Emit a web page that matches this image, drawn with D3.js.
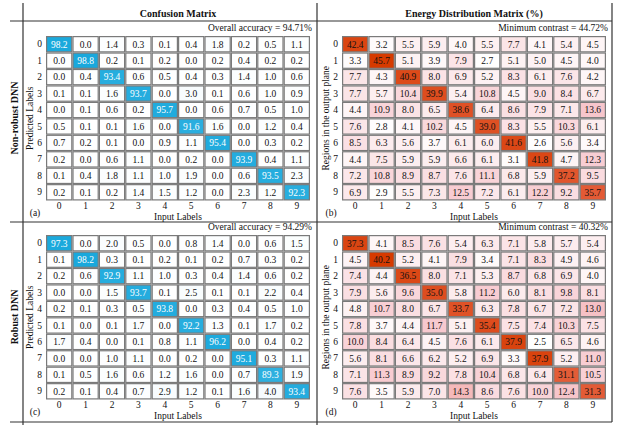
<!DOCTYPE html>
<html>
<head>
<meta charset="utf-8">
<script src="https://cdn.jsdelivr.net/npm/d3@7"></script>
<style>
  body { margin: 0; background: #fff; }
  svg text { font-family: "Liberation Serif", "Times New Roman", serif; fill: #111; }
</style>
</head>
<body>
<div id="chart"></div>
<script>
// etiquetas 0..9 para filas y columnas
var etiquetas = ["0", "1", "2", "3", "4", "5", "6", "7", "8", "9"];

// (a) matriz de confusion, red no robusta (filas = predicho, columnas = entrada)
var confusionNoRobusta = [
  [98.2, 0.0, 1.4, 0.3, 0.1, 0.4, 1.8, 0.2, 0.5, 1.1],
  [0.0, 98.8, 0.2, 0.1, 0.2, 0.0, 0.2, 0.4, 0.2, 0.2],
  [0.0, 0.4, 93.4, 0.6, 0.5, 0.4, 0.3, 1.4, 1.0, 0.6],
  [0.1, 0.1, 1.6, 93.7, 0.0, 3.0, 0.1, 0.6, 1.0, 0.9],
  [0.0, 0.1, 0.6, 0.2, 95.7, 0.0, 0.6, 0.7, 0.5, 1.0],
  [0.5, 0.1, 0.1, 1.6, 0.0, 91.6, 1.6, 0.0, 1.2, 0.4],
  [0.7, 0.2, 0.1, 0.0, 0.9, 1.1, 95.4, 0.0, 0.3, 0.2],
  [0.2, 0.0, 0.6, 1.1, 0.0, 0.2, 0.0, 93.9, 0.4, 1.1],
  [0.1, 0.4, 1.8, 1.1, 1.0, 1.9, 0.0, 0.6, 93.5, 2.3],
  [0.2, 0.1, 0.2, 1.4, 1.5, 1.2, 0.0, 2.3, 1.2, 92.3]
];

// (b) distribucion de energia, red no robusta
var energiaNoRobusta = [
  [42.4, 3.2, 5.5, 5.9, 4.0, 5.5, 7.7, 4.1, 5.4, 4.5],
  [3.3, 45.7, 5.1, 3.9, 7.9, 2.7, 5.1, 5.0, 4.5, 4.0],
  [7.7, 4.3, 40.9, 8.0, 6.9, 5.2, 8.3, 6.1, 7.6, 4.2],
  [7.7, 5.7, 10.4, 39.9, 5.4, 10.8, 4.5, 9.0, 8.4, 6.7],
  [4.4, 10.9, 8.0, 6.5, 38.6, 6.4, 8.6, 7.9, 7.1, 13.6],
  [7.6, 2.8, 4.1, 10.2, 4.5, 39.0, 8.3, 5.5, 10.3, 6.1],
  [8.5, 6.3, 5.6, 3.7, 6.1, 6.0, 41.6, 2.6, 5.6, 3.4],
  [4.4, 7.5, 5.9, 5.9, 6.6, 6.1, 3.1, 41.8, 4.7, 12.3],
  [7.2, 10.8, 8.9, 8.7, 7.6, 11.1, 6.8, 5.9, 37.2, 9.5],
  [6.9, 2.9, 5.5, 7.3, 12.5, 7.2, 6.1, 12.2, 9.2, 35.7]
];

// (c) matriz de confusion, red robusta
var confusionRobusta = [
  [97.3, 0.0, 2.0, 0.5, 0.0, 0.8, 1.4, 0.0, 0.6, 1.5],
  [0.1, 98.2, 0.3, 0.1, 0.2, 0.1, 0.2, 0.7, 0.3, 0.2],
  [0.2, 0.6, 92.9, 1.1, 1.0, 0.3, 0.4, 1.4, 0.6, 0.2],
  [0.0, 0.0, 1.5, 93.7, 0.1, 2.5, 0.1, 0.1, 2.2, 0.4],
  [0.2, 0.1, 0.3, 0.5, 93.8, 0.0, 0.3, 0.4, 0.5, 1.0],
  [0.1, 0.0, 0.1, 1.7, 0.0, 92.2, 1.3, 0.1, 1.7, 0.2],
  [1.7, 0.4, 0.0, 0.1, 0.8, 1.1, 96.2, 0.0, 0.4, 0.2],
  [0.0, 0.0, 1.0, 1.1, 0.0, 0.2, 0.0, 95.1, 0.3, 1.1],
  [0.1, 0.5, 1.6, 0.6, 1.2, 1.6, 0.0, 0.7, 89.3, 1.9],
  [0.2, 0.1, 0.4, 0.7, 2.9, 1.2, 0.1, 1.6, 4.0, 93.4]
];

// (d) distribucion de energia, red robusta
var energiaRobusta = [
  [37.3, 4.1, 8.5, 7.6, 5.4, 6.3, 7.1, 5.8, 5.7, 5.4],
  [4.5, 40.2, 5.2, 4.1, 7.9, 3.4, 7.1, 8.3, 4.9, 4.6],
  [7.4, 4.4, 36.5, 8.0, 7.1, 5.3, 8.7, 6.8, 6.9, 4.0],
  [7.9, 5.6, 9.6, 35.0, 5.8, 11.2, 6.0, 8.1, 9.8, 8.1],
  [4.8, 10.7, 8.0, 6.7, 33.7, 6.3, 7.8, 6.7, 7.2, 13.0],
  [7.8, 3.7, 4.4, 11.7, 5.1, 35.4, 7.5, 7.4, 10.3, 7.5],
  [10.0, 8.4, 6.4, 4.5, 7.6, 6.1, 37.9, 2.5, 6.5, 4.6],
  [5.6, 8.1, 6.6, 6.2, 5.2, 6.9, 3.3, 37.9, 5.2, 11.0],
  [7.1, 11.3, 8.9, 9.2, 7.8, 10.4, 6.8, 6.4, 31.1, 10.5],
  [7.6, 3.5, 5.9, 7.0, 14.3, 8.6, 7.6, 10.0, 12.4, 31.3]
];

var titulos = ["Confusion Matrix", "Energy Distribution Matrix (%)"];
var filas = ["Non-robust DNN", "Robust DNN"];
var notas = ["Overall accuracy = 94.71%", "Minimum contrast = 44.72%",
             "Overall accuracy = 94.29%", "Minimum contrast = 40.32%"];
var letras = ["(a)", "(b)", "(c)", "(d)"];
var ejesY = ["Predicted Labels", "Regions in the output plane"];
var ejeX = "Input Labels";

var W = 619, H = 425;
var svg = d3.select("#chart").append("svg")
    .attr("width", W)
    .attr("height", H);

var anchoGrid = 264, altoGrid = 164.5;

function colorConfusion(datos) {
    var max = d3.max(datos.flat());
    return d3.scaleLinear().domain([0, max]).range(["#ffffff", "#19a8dc"]).clamp(true);
}

function colorEnergia(datos) {
    var lo = 2.5, hi = d3.max(datos.flat());
    var r = hi - lo;
    return d3.scaleLinear()
        .domain([lo, lo + 0.25 * r, lo + 0.65 * r, hi])
        .range(["#ffffff", "#f7c8ce", "#e96b50", "#d63a00"])
        .clamp(true);
}

function dibujarMatriz(izq, arriba, datos, color, esConfusion, nota, letra, tituloY, titulo) {
    var g = svg.append("g").attr("transform", "translate(" + izq + "," + arriba + ")");

    var x = d3.scaleBand().domain(etiquetas).range([0, anchoGrid]);
    var y = d3.scaleBand().domain(etiquetas).range([0, altoGrid]);

    var celdas = [];
    datos.forEach(function (fila, i) {
        fila.forEach(function (v, j) {
            celdas.push({ fila: etiquetas[i], col: etiquetas[j], valor: v });
        });
    });

    g.selectAll(".cell")
        .data(celdas)
        .enter().append("rect")
        .attr("x", function (d) { return x(d.col) + 0.6; })
        .attr("y", function (d) { return y(d.fila) + 0.6; })
        .attr("width", x.bandwidth() - 1.2)
        .attr("height", y.bandwidth() - 1.2)
        .style("fill", function (d) { return color(d.valor); })
        .style("stroke", "#7a7a7a")
        .style("stroke-width", 1.2);

    g.selectAll(".val")
        .data(celdas)
        .enter().append("text")
        .attr("x", function (d) { return x(d.col) + x.bandwidth() / 2; })
        .attr("y", function (d) { return y(d.fila) + y.bandwidth() / 2; })
        .attr("dy", "0.35em")
        .attr("text-anchor", "middle")
        .style("font-size", "9.5px")
        .style("fill", function (d) { return (esConfusion && d.valor > 50) ? "#ffffff" : "#111"; })
        .text(function (d) { return d.valor.toFixed(1); });

    // ejes sin linea ni marcas
    var ax = g.append("g")
        .attr("transform", "translate(0," + altoGrid + ")")
        .call(d3.axisBottom(x).tickSize(0).tickPadding(1.5));
    var ay = g.append("g")
        .call(d3.axisLeft(y).tickSize(0).tickPadding(4));
    [ax, ay].forEach(function (a) {
        a.select(".domain").remove();
        a.selectAll("text")
            .style("font-family", "Liberation Serif, serif")
            .style("font-size", "9.5px")
            .style("fill", "#111");
    });

    g.append("text")
        .attr("x", anchoGrid + 2)
        .attr("y", -5)
        .attr("text-anchor", "end")
        .style("font-size", "9.5px")
        .text(nota);

    g.append("text")
        .attr("x", anchoGrid / 2)
        .attr("y", altoGrid + 19.5)
        .attr("text-anchor", "middle")
        .style("font-size", "9.5px")
        .text(ejeX);

    g.append("text")
        .attr("x", -11)
        .attr("y", altoGrid + 15)
        .attr("text-anchor", "middle")
        .style("font-size", "9.5px")
        .text(letra);

    g.append("text")
        .attr("transform", "translate(-12," + altoGrid / 2 + ") rotate(-90)")
        .attr("text-anchor", "middle")
        .attr("dy", "-0.1em")
        .style("font-size", "9.5px")
        .text(tituloY);

    if (titulo) {
        g.append("text")
            .attr("x", anchoGrid / 2)
            .attr("y", -19)
            .attr("text-anchor", "middle")
            .style("font-size", "10px")
            .style("font-weight", "bold")
            .text(titulo);
    }
}

dibujarMatriz(46, 36, confusionNoRobusta, colorConfusion(confusionNoRobusta), true,
    notas[0], letras[0], ejesY[0], titulos[0]);
dibujarMatriz(342, 36, energiaNoRobusta, colorEnergia(energiaNoRobusta), false,
    notas[1], letras[1], ejesY[1], titulos[1]);
dibujarMatriz(46, 235, confusionRobusta, colorConfusion(confusionRobusta), true,
    notas[2], letras[2], ejesY[0], null);
dibujarMatriz(342, 235, energiaRobusta, colorEnergia(energiaRobusta), false,
    notas[3], letras[3], ejesY[1], null);

// etiquetas de fila (izquierda)
var centrosFila = [118, 317];
filas.forEach(function (t, i) {
    svg.append("text")
        .attr("transform", "translate(18," + centrosFila[i] + ") rotate(-90)")
        .attr("text-anchor", "middle")
        .style("font-size", "10px")
        .style("font-weight", "bold")
        .text(t);
});

// lineas de la tabla
var lineas = [
    [23, 3, 23, 425], [317, 3, 317, 425], [612, 3, 612, 422],
    [10, 21, 612, 21], [10, 222, 612, 222], [10, 422, 612, 422]
];
svg.selectAll(".borde")
    .data(lineas)
    .enter().append("line")
    .attr("x1", function (d) { return d[0]; })
    .attr("y1", function (d) { return d[1]; })
    .attr("x2", function (d) { return d[2]; })
    .attr("y2", function (d) { return d[3]; })
    .style("stroke", "#333")
    .style("stroke-width", 1.2);
</script>
</body>
</html>
